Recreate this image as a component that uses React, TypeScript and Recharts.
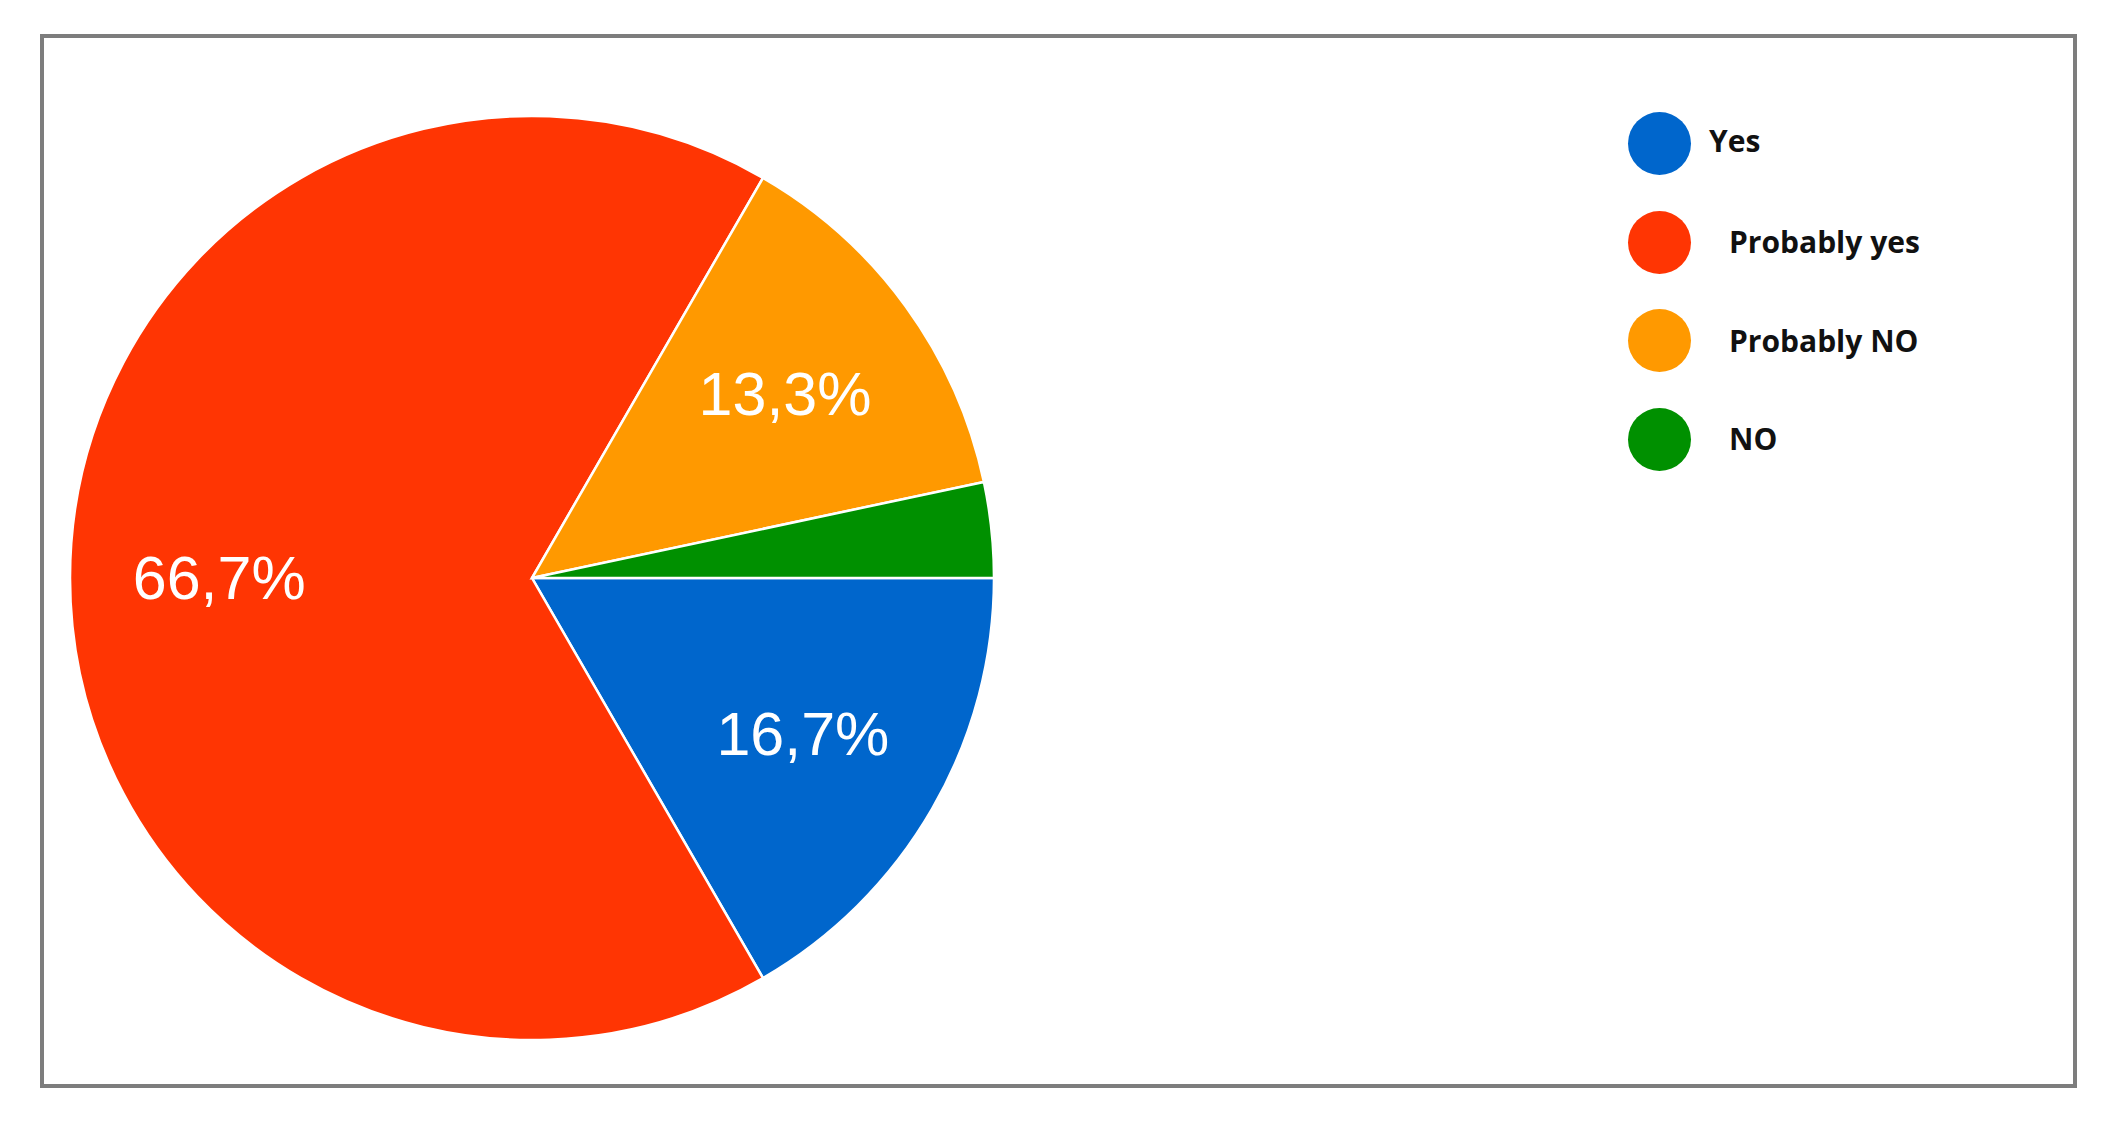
import { PieChart, Pie, Cell, Legend } from 'recharts'

// survey answers (count of respondents)
const answers = ['Yes', 'Probably yes', 'Probably NO', 'NO']
const counts = [5, 20, 4, 1]
const sliceColors = ['#0066cc', '#ff3503', '#ff9900', '#009000']

const data = answers.map((name, i) => ({ name, value: counts[i] }))

const RADIAN = Math.PI / 180

const renderSliceLabel = (props: any) => {
  const { cx, cy, midAngle, outerRadius, percent } = props
  if (percent < 0.05) return null
  const r = outerRadius * 0.677
  const x = cx + r * Math.cos(-midAngle * RADIAN)
  const y = cy + r * Math.sin(-midAngle * RADIAN)
  const text = (percent * 100).toFixed(1).replace('.', ',') + '%'
  return (
    <text
      x={x}
      y={y}
      fill="#ffffff"
      textAnchor="middle"
      dominantBaseline="central"
      fontFamily="'Liberation Sans', Arial, sans-serif"
      fontSize={61}
    >
      {text}
    </text>
  )
}

const renderLegend = () => (
  <div style={{ fontFamily: "'Open Sans', sans-serif", fontWeight: 700, fontSize: 30, color: '#111' }}>
    {answers.map((name, i) => (
      <div key={name} style={{ display: 'flex', alignItems: 'center', height: 98.7 }}>
        <span
          style={{
            width: 63,
            height: 63,
            borderRadius: '50%',
            background: sliceColors[i],
            display: 'inline-block',
            flexShrink: 0,
          }}
        />
        <span style={{ marginLeft: i === 0 ? 18 : 38, lineHeight: 1, marginTop: i === 0 ? -5 : 0 }}>{name}</span>
      </div>
    ))}
  </div>
)

export default function App() {
  return (
    <div style={{ position: 'absolute', left: 0, top: 0, width: 2110, height: 1125, background: '#fff' }}>
      <div
        style={{
          position: 'absolute',
          left: 40,
          top: 34,
          width: 2037,
          height: 1054,
          border: '4px solid #7d7d7d',
          boxSizing: 'border-box',
        }}
      />
      <PieChart
        width={2110}
        height={1125}
        margin={{ top: 0, right: 0, bottom: 0, left: 0 }}
        style={{ position: 'absolute', left: 0, top: 0 }}
      >
        <Pie
          data={data}
          dataKey="value"
          nameKey="name"
          cx={532}
          cy={578}
          outerRadius={462}
          startAngle={0}
          endAngle={-360}
          stroke="#ffffff"
          strokeWidth={2.5}
          label={renderSliceLabel}
          labelLine={false}
          isAnimationActive={false}
        >
          {data.map((entry, index) => (
            <Cell key={`cell-${index}`} fill={sliceColors[index]} />
          ))}
        </Pie>
        <Legend
          content={renderLegend}
          wrapperStyle={{ position: 'absolute', left: 1628, top: 94, width: 420 }}
        />
      </PieChart>
    </div>
  )
}
